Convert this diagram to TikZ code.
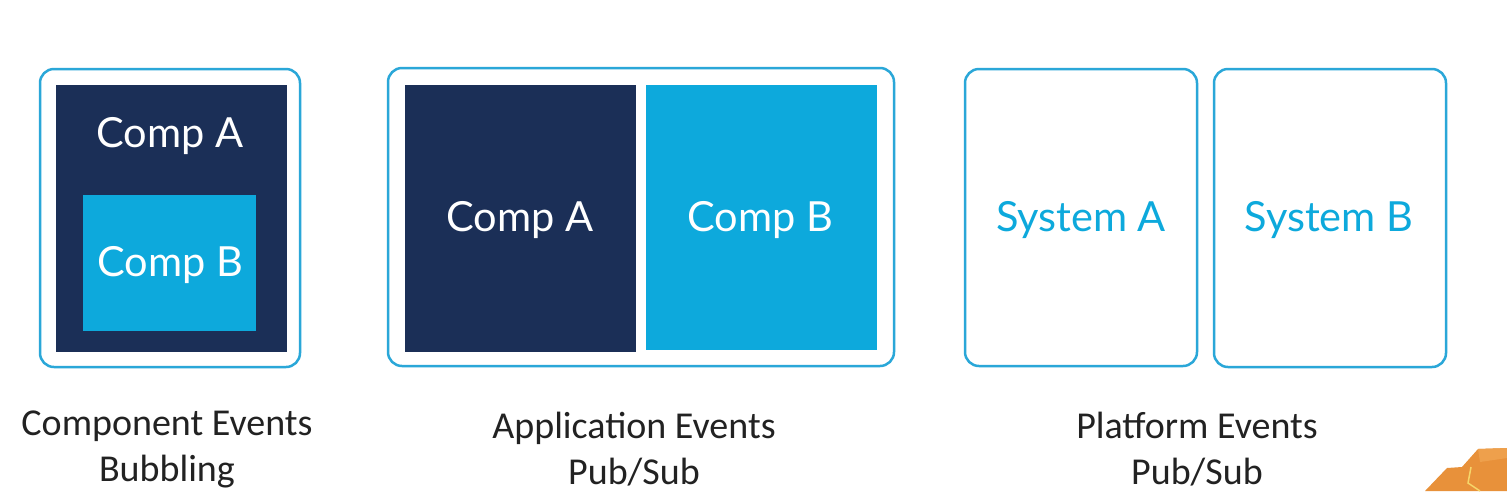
\documentclass[tikz,border=0pt]{standalone}
\usepackage{fontspec}
\setmainfont{Carlito}
\newfontfamily\boxfont{Lato}
\definecolor{navy}{HTML}{1B2F57}
\definecolor{sky}{HTML}{0DA9DC}
\definecolor{rim}{HTML}{2AA7D8}
\definecolor{ink}{HTML}{222222}
\definecolor{orng}{HTML}{E8913A}
\definecolor{orngl}{HTML}{EEA04C}
\definecolor{ylw}{HTML}{F6D66A}
\begin{document}
\begin{tikzpicture}[x=1pt,y=-1pt,
  frame/.style={draw=rim,line width=2.5pt,rounded corners=14pt},
  darkbox/.style={fill=navy},
  lightbox/.style={fill=sky},
  wtext/.style={text=white,font=\boxfont\fontsize{41.5}{48}\selectfont},
  btext/.style={text=sky,font=\boxfont\fontsize{41.5}{48}\selectfont},
  caption/.style={text=ink,font=\fontsize{38}{46}\selectfont,align=center}]
\useasboundingbox[fill=white] (0,0) rectangle (1507,491);
% left group
\draw[frame] (40,69) rectangle (300,367);
\fill[darkbox] (56,85) rectangle (287,352);
\fill[lightbox] (83,195) rectangle (256,331);
\node[wtext] (lA) at (170,136) {Comp A};
\node[wtext] (lB) at (170,265) {Comp B};
% middle group
\draw[frame] (388,68) rectangle (894,366);
\fill[darkbox] (405,85) rectangle (636,352);
\fill[lightbox] (646,85) rectangle (877,350);
\node[wtext] (mA) at (520,220) {Comp A};
\node[wtext] (mB) at (760,220) {Comp B};
% right group
\draw[frame] (965,69) rectangle (1197,366);
\draw[frame] (1214,69) rectangle (1446,367);
\node[btext] (sA) at (1081,220) {System A};
\node[btext] (sB) at (1329,220) {System B};
% captions
\node[caption] (c1) at (167,449) {Component Events\\Bubbling};
\node[caption] (c2) at (634,449) {Application Events\\Pub/Sub};
\node[caption] (c3) at (1197,449) {Platform Events\\Pub/Sub};
% orange corner decoration
\fill[orng] (1425,491) -- (1447,468) -- (1462,467) -- (1478,449) -- (1507,448) -- (1507,491) -- cycle;
\fill[orngl] (1478,449) -- (1507,448) -- (1507,458) -- (1480,462) -- cycle;
\draw[ylw,line width=1.5pt] (1471,467) -- (1468,483) -- (1480,491);
\end{tikzpicture}
\end{document}
